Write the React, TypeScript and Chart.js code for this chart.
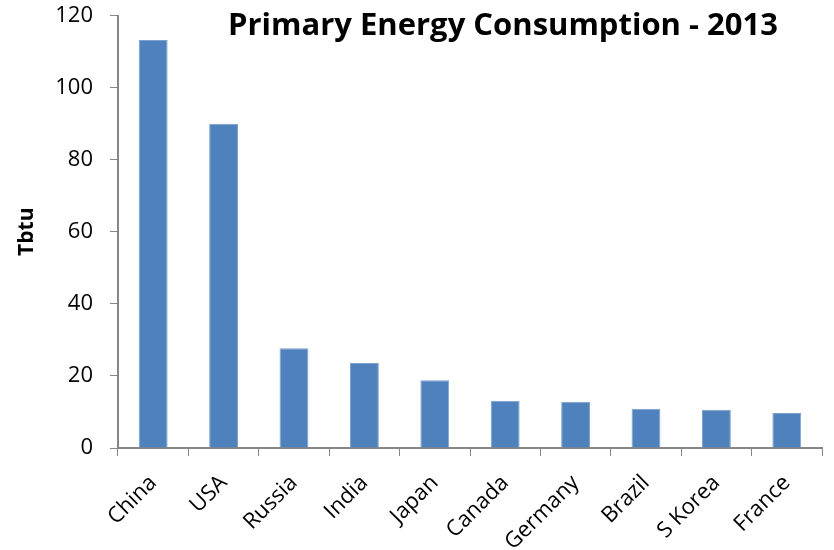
import React, { useEffect, useRef } from "react";
import { Chart, registerables } from "chart.js";

Chart.register(...registerables);

const categories = ["China", "USA", "Russia", "India", "Japan", "Canada", "Germany", "Brazil", "S Korea", "France"];
const consumption = [113.2, 90.0, 27.7, 23.6, 18.8, 13.1, 12.8, 10.9, 10.6, 9.7];
const yTicks = [0, 20, 40, 60, 80, 100, 120];
const chartTitle = "Primary Energy Consumption - 2013";
const yAxisTitle = "Tbtu";

const FONT = "'Open Sans', 'Noto Sans', sans-serif";
const AXIS = "#868686";

const titlePlugin = {
  id: "insideTitle",
  afterDraw(chart: any) {
    const ctx = chart.ctx;
    ctx.save();
    ctx.font = `bold 31px ${FONT}`;
    ctx.fillStyle = "#000";
    ctx.textAlign = "center";
    ctx.textBaseline = "alphabetic";
    ctx.fillText(chartTitle, 503, 35);
    ctx.restore();
  },
};

export default function App() {
  const ref = useRef<HTMLCanvasElement | null>(null);
  useEffect(() => {
    if (!ref.current) return;
    const chart = new Chart(ref.current, {
      type: "bar",
      data: {
        labels: categories,
        datasets: [
          {
            data: consumption,
            backgroundColor: "#4F81BD",
            borderColor: "#7DA1CF",
            borderWidth: { top: 1, left: 1, right: 1, bottom: 0 },
            categoryPercentage: 1,
            barPercentage: 0.41,
          },
        ],
      },
      options: {
        animation: false,
        responsive: false,
        maintainAspectRatio: false,
        layout: { padding: { top: 0, right: 12, left: 0, bottom: 0 } },
        plugins: {
          legend: { display: false },
          tooltip: { enabled: false },
          title: { display: false },
        },
        scales: {
          x: {
            grid: {
              display: true,
              drawOnChartArea: false,
              drawTicks: true,
              tickLength: 8,
              color: AXIS,
              offset: true,
            },
            border: { display: true, color: AXIS, width: 2 },
            ticks: {
              autoSkip: false,
              maxRotation: 45,
              minRotation: 45,
              padding: 14,
              color: "#000",
              font: { family: FONT, size: 22 },
            },
            afterFit(scale: any) {
              scale.height = 102;
            },
          },
          y: {
            min: 0,
            max: 120,
            afterBuildTicks(scale: any) {
              scale.ticks = yTicks.map((v) => ({ value: v }));
            },
            grid: {
              display: true,
              drawOnChartArea: false,
              drawTicks: true,
              tickLength: 8,
              color: AXIS,
            },
            border: { display: true, color: AXIS, width: 2 },
            ticks: {
              padding: 17,
              color: "#000",
              font: { family: FONT, size: 22 },
            },
            title: {
              display: true,
              text: yAxisTitle,
              color: "#000",
              font: { family: FONT, size: 21, weight: "bold" },
              padding: { top: 14, bottom: 0 },
            },
            afterFit(scale: any) {
              scale.width = 118;
              scale.paddingTop = 15.5;
              scale.paddingBottom = 12;
            },
          },
        },
      },
      plugins: [titlePlugin],
    });
    return () => chart.destroy();
  }, []);
  return (
    <div style={{ position: "fixed", left: 0, top: 0, width: 834, height: 550, background: "#fff" }}>
      <canvas ref={ref} width={834} height={550} style={{ width: 834, height: 550 }} />
    </div>
  );
}
